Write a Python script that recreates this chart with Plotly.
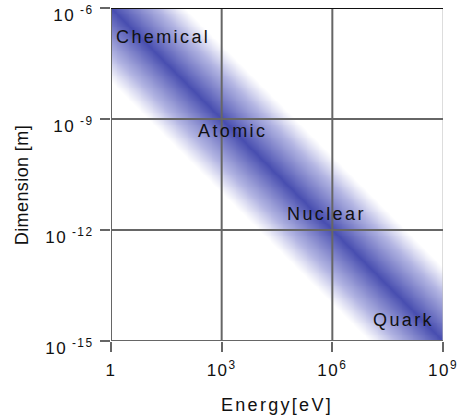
import numpy as np
import plotly.graph_objects as go

# Axis decades (log10 exponents) and their tick labels
energy_ticks = [0, 3, 6, 9]
energy_labels = ["1", "10<sup>3</sup>", "10<sup>6</sup>", "10<sup>9</sup>"]
dim_ticks = [-15, -12, -9, -6]
dim_labels = ["10<sup> -15</sup>", "10<sup> -12</sup>", "10<sup> -9</sup>", "10<sup> -6</sup>"]

# Physics regimes along the scale band: log10(energy / eV), log10(dimension / m)
regimes = ["Chemical", "Atomic", "Nuclear", "Quark"]
regime_energy = [1.41, 3.28, 5.83, 7.94]
regime_dim = [-6.78, -9.32, -11.57, -14.43]

# Scale relation: ~1e-6 m at 1 eV, one decade smaller per decade of energy
band_intercept = -6.0
band_halfwidth = 2.0

ex = np.linspace(0, 9, 361)
ey = np.linspace(-15, -6, 361)
EX, EY = np.meshgrid(ex, ey)
offset = np.abs(EY - (band_intercept - EX))
z = np.clip(1.0 - offset / band_halfwidth, 0, 1) ** 1.1

FONT = "Liberation Sans, Arial, sans-serif"

def spaced(s, px):
    return f'<span style="letter-spacing:{px}px">{s}</span>'

fig = go.Figure()
fig.add_trace(go.Heatmap(
    x=ex, y=ey, z=z, zmin=0, zmax=1, zsmooth="best",
    colorscale=[[0, "#ffffff"], [0.35, "#b2b4e2"], [1, "#484eb0"]],
    showscale=False, hoverinfo="skip",
))

# grid lines drawn over the band
for v in energy_ticks:
    col = "#bbbbbb" if v == energy_ticks[-1] else "#666666"
    w = 1 if v == energy_ticks[-1] else 2
    fig.add_shape(type="line", xref="x", yref="paper", x0=v, x1=v, y0=0, y1=1,
                  line=dict(color=col, width=w), layer="above")
for v in dim_ticks:
    col = "#111111" if v == dim_ticks[-1] else "#666666"
    fig.add_shape(type="line", xref="paper", yref="y", x0=0, x1=1, y0=v, y1=v,
                  line=dict(color=col, width=2), layer="above")

for name, xv, yv in zip(regimes, regime_energy, regime_dim):
    fig.add_annotation(x=xv, y=yv, text=spaced(name, 2.4), showarrow=False,
                       font=dict(family=FONT, size=18, color="#111111"),
                       xanchor="center", yanchor="middle")

# y-axis title
fig.add_annotation(xref="paper", yref="paper", x=-0.268, y=0.468,
                   text=spaced("Dimension [m]", 0.4), textangle=-90, showarrow=False,
                   font=dict(family=FONT, size=18, color="#111111"),
                   xanchor="center", yanchor="middle")

fig.update_xaxes(
    range=[0, 9], tickvals=energy_ticks, ticktext=[spaced(t, 1.5) for t in energy_labels],
    showgrid=False, zeroline=False, ticks="outside", ticklen=10, tickwidth=2,
    tickcolor="#666666", tickfont=dict(family=FONT, size=17, color="#111111"),
    ticklabeloverflow="allow", automargin=False, ticklabelstandoff=4,
    title=dict(text=spaced("Energy[eV]", 2.3), font=dict(family=FONT, size=18, color="#111111"),
               standoff=18),
)
fig.update_yaxes(
    range=[-15, -6], tickvals=dim_ticks, ticktext=[spaced(t, 1.5) for t in dim_labels],
    showgrid=False, zeroline=False, ticks="outside", ticklen=10, tickwidth=2,
    tickcolor="#666666", tickfont=dict(family=FONT, size=17, color="#111111"),
    ticklabeloverflow="allow", automargin=False, ticklabelstandoff=3,
    ticklabelshift=7,
)
fig.update_layout(
    width=460, height=415, margin=dict(l=111, r=17, t=8, b=74),
    paper_bgcolor="white", plot_bgcolor="white", showlegend=False,
)
fig.write_html("out.html")
